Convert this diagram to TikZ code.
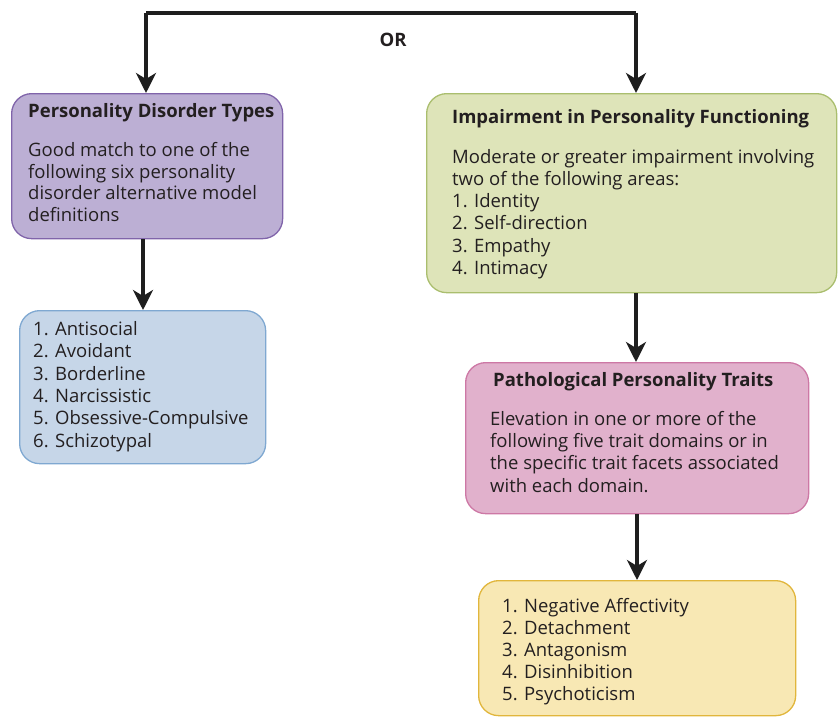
\documentclass[tikz,border=0pt]{standalone}
\usepackage{fontspec}
\setmainfont{Open Sans}
\usetikzlibrary{arrows.meta}
\definecolor{txt}{RGB}{35,31,32}
\definecolor{arr}{RGB}{30,30,30}
\definecolor{pFill}{RGB}{188,175,212}
\definecolor{pLine}{RGB}{128,100,170}
\definecolor{bFill}{RGB}{198,214,232}
\definecolor{bLine}{RGB}{127,168,209}
\definecolor{gFill}{RGB}{222,228,185}
\definecolor{gLine}{RGB}{170,190,110}
\definecolor{kFill}{RGB}{225,177,204}
\definecolor{kLine}{RGB}{205,120,165}
\definecolor{yFill}{RGB}{248,232,180}
\definecolor{yLine}{RGB}{225,182,60}
\tikzset{
  boxbase/.style={rounded corners=20pt, line width=1.3pt, anchor=north west, inner sep=0pt},
  txtbox/.style={anchor=north west, inner sep=0pt, align=left, text=txt,
     font=\fontsize{18.5}{22.2}\selectfont},
  ttl/.style={anchor=north west, inner sep=0pt, text=txt, font=\fontsize{18.5}{22}\selectfont\bfseries},
  conn/.style={draw=arr, line width=3.4pt, -{Stealth[length=20pt,width=20pt,inset=6pt]}},
}
\begin{document}
\begin{tikzpicture}[x=1pt,y=-1pt]
\useasboundingbox (0,0) rectangle (838,717);
% boxes
\node[boxbase, draw=pLine, fill=pFill, minimum width=271pt, minimum height=145pt] (pdt) at (11,93) {};
\node[boxbase, draw=bLine, fill=bFill, minimum width=246pt, minimum height=153pt] (lst) at (19,310) {};
\node[boxbase, draw=gLine, fill=gFill, minimum width=410pt, minimum height=199pt] (ipf) at (426,93) {};
\node[boxbase, draw=kLine, fill=kFill, minimum width=343pt, minimum height=151pt] (ppt) at (465,362) {};
\node[boxbase, draw=yLine, fill=yFill, minimum width=317pt, minimum height=135pt] (dom) at (478,580) {};
% texts
\node[ttl] (pdtT) at (28,103) {Personality Disorder Types};
\node[txtbox, font=\fontsize{18.5}{21.7}\selectfont] (pdtB) at (28,142) {Good match to one of the\\following six personality\\disorder alternative model\\definitions};
\node[txtbox, font=\fontsize{18.5}{22.4}\selectfont] (lstB) at (33,321) {1. Antisocial\\2. Avoidant\\3. Borderline\\4. Narcissistic\\5. Obsessive-Compulsive\\6. Schizotypal};
\node[ttl] (ipfT) at (452,109) {Impairment in Personality Functioning};
\node[txtbox, font=\fontsize{18.5}{22.2}\selectfont] (ipfB) at (452,149) {Moderate or greater impairment involving\\two of the following areas:\\1. Identity\\2. Self-direction\\3. Empathy\\4. Intimacy};
\node[ttl] (pptT) at (493,372) {Pathological Personality Traits};
\node[txtbox, font=\fontsize{18.5}{22.3}\selectfont] (pptB) at (490,411) {Elevation in one or more of the\\following five trait domains or in\\the specific trait facets associated\\with each domain.};
\node[txtbox, font=\fontsize{18.5}{22}\selectfont] (domB) at (502,598) {1. Negative Affectivity\\2. Detachment\\3. Antagonism\\4. Disinhibition\\5. Psychoticism};
\node[ttl, anchor=center] (orT) at (393,40) {OR};
% connectors
\coordinate (tl) at (146,13);
\coordinate (tr) at (636,13);
\draw[draw=arr, line width=3.4pt] (tl) -- (tr);
\draw[conn] (tl) -- (pdt.north -| tl);
\draw[conn] (tr) -- (ipf.north -| tr);
\draw[conn] (pdt.south -| 143,0) -- (lst.north -| 143,0);
\draw[conn] (ipf.south -| 636,0) -- (ppt.north -| 636,0);
\draw[conn] (ppt.south -| 637,0) -- (dom.north -| 637,0);
\end{tikzpicture}
\end{document}
